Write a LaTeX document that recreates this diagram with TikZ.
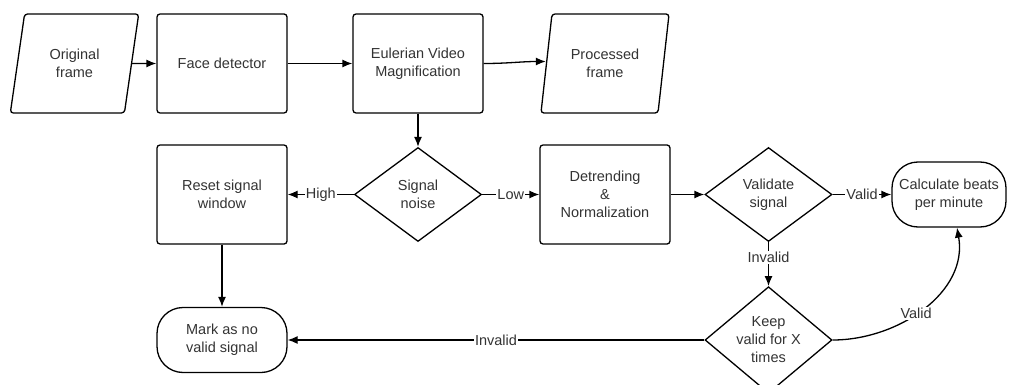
\documentclass[tikz,border=0pt]{standalone}
\usepackage{fontspec}
\setmainfont{Liberation Sans}
\usetikzlibrary{positioning}
\usetikzlibrary{shapes.geometric}
\usetikzlibrary{arrows.meta}
\usetikzlibrary{calc}

\tikzset{
    base/.style={draw, line width=1.3pt, text=black!80, align=center,
        font=\fontsize{14.5}{18}\selectfont},
    iobox/.style={base, trapezium, trapezium left angle=76, trapezium right angle=104,
        trapezium stretches=true, minimum width=129pt, minimum height=99pt,
        rounded corners=3pt, inner sep=0pt},
    procbox/.style={base, rectangle, rounded corners=3pt,
        minimum width=130pt, minimum height=99pt},
    decision/.style={base, diamond, minimum width=127pt, minimum height=94pt,
        inner sep=-1pt},
    terminal/.style={base, rectangle, rounded corners=26pt,
        minimum width=130pt, minimum height=65pt},
    flow/.style={-{Latex[length=10pt, width=8pt]}, line width=1.3pt},
    tag/.style={fill=white, inner sep=1pt, text=black!80,
        font=\fontsize{14.5}{18}\selectfont},
}

\begin{document}
\begin{tikzpicture}[x=1pt, y=-1pt]
    \useasboundingbox (0,0) rectangle (1011,385);
    % top row
    \node[iobox] (orig) at (74.5,63.5) {Original\\frame};
    \node[procbox] (face) at (222,63.5) {Face detector};
    \node[procbox] (evm) at (418,63.5) {Eulerian Video\\Magnification};
    \node[iobox] (proc) at (605,63.5) {Processed\\frame};
    % middle row
    \node[procbox] (reset) at (222,194.5) {Reset signal\\window};
    \node[decision] (noise) at (418,194.5) {Signal\\noise};
    \node[procbox] (detrend) at (605,194.5) {Detrending\\\&\\Normalization};
    \node[decision] (valid) at (768.5,194.5) {Validate\\signal};
    \node[terminal, minimum width=114pt] (bpm) at (949,194.5) {Calculate beats\\per minute};
    % bottom row
    \node[terminal] (nosig) at (222,340) {Mark as no\\valid signal};
    \node[decision] (keep) at (768.5,340) {Keep\\valid for X\\times};

    \draw[flow] (orig) -- (face);
    \draw[flow] (face) -- (evm);
    \draw[flow] (evm.east) to[out=0, in=180] ([yshift=2pt]proc.west);
    \draw[flow] (evm) -- (noise);
    \draw[flow] (noise) -- node[tag]{High} (reset);
    \draw[flow] (noise) -- node[tag]{Low} (detrend);
    \draw[flow] (detrend) -- (valid);
    \draw[flow] (valid) -- node[tag]{Valid} (bpm);
    \draw[flow] (valid) -- node[tag, pos=0.35]{Invalid} (keep);
    \draw[flow] (keep) -- node[tag]{Invalid} (nosig);
    \draw[flow] (keep.east) to[out=0, in=-80] node[tag, pos=0.45]{Valid} ([xshift=8pt]bpm.south);
    \draw[flow] (reset) -- (nosig);
\end{tikzpicture}
\end{document}
